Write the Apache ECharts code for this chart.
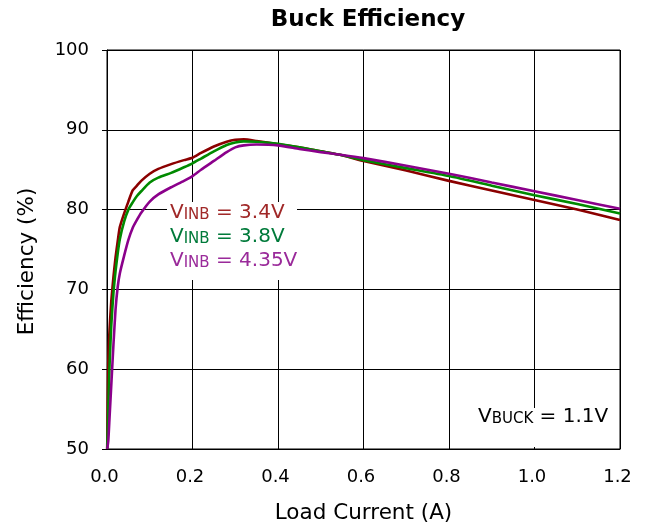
<!DOCTYPE html>
<html><head><meta charset="utf-8">
<script src="https://cdn.jsdelivr.net/npm/echarts@6/dist/echarts.min.js"></script>
<style>html,body{margin:0;padding:0;background:#fff}#c{width:650px;height:529px}</style>
</head><body><div id="c"></div>
<script>
const loadCurrent = [0.0005, 0.003, 0.006, 0.01, 0.015, 0.02, 0.025, 0.03, 0.04, 0.05, 0.06, 0.07, 0.08, 0.1, 0.12, 0.15, 0.18, 0.2, 0.22, 0.25, 0.28, 0.3, 0.32, 0.35, 0.4, 0.45, 0.5, 0.55, 0.6, 0.7, 0.8, 0.9, 1.0, 1.1, 1.2];
const eff34 = [50, 61, 65, 68.5, 71.5, 74, 76, 77.8, 79.5, 81, 82.4, 83, 83.6, 84.5, 85.1, 85.7, 86.2, 86.5, 87.1, 87.9, 88.5, 88.75, 88.8, 88.6, 88.2, 87.8, 87.3, 86.8, 86.1, 84.9, 83.6, 82.4, 81.2, 80.0, 78.7];
const eff38 = [50, 55, 60.5, 65.5, 69.5, 72.3, 74.5, 76.3, 78.5, 80, 80.9, 81.7, 82.3, 83.4, 84, 84.6, 85.3, 85.8, 86.4, 87.3, 88.1, 88.4, 88.55, 88.5, 88.25, 87.8, 87.3, 86.8, 86.2, 85.2, 84.2, 83.0, 81.8, 80.7, 79.5];
const eff435 = [50, 51, 54, 58, 63, 67.5, 70.3, 72, 74.2, 76.2, 77.7, 78.7, 79.6, 81, 81.9, 82.8, 83.6, 84.2, 85, 86.1, 87.2, 87.8, 88.05, 88.15, 88.05, 87.6, 87.2, 86.85, 86.45, 85.5, 84.5, 83.4, 82.3, 81.2, 80.1];
const seriesNames = ['3.4V', '3.8V', '4.35V'];
const lineColors = ['#8b0000', '#008a00', '#8b008b'];
const textColors = ['#a02828', '#007a3a', '#9a2a9a'];
const xTicks = [0.0, 0.2, 0.4, 0.6, 0.8, 1.0, 1.2];
const yTicks = [50, 60, 70, 80, 90, 100];

const F = '"DejaVu Sans", sans-serif';
const chart = echarts.init(document.getElementById('c'), null, {renderer: 'canvas'});
const allY = [eff34, eff38, eff435];
function pairs(ys) { return loadCurrent.map((x, i) => [x, ys[i]]); }

function legendText(i) {
  return '{v|V}{s|INB}{v| = ' + seriesNames[i] + '}';
}
function rich(col) {
  return {
    v: {fontFamily: F, fontSize: 20, fill: col, color: col, verticalAlign: 'bottom', lineHeight: 25},
    s: {fontFamily: F, fontSize: 15, fill: col, color: col, verticalAlign: 'bottom', lineHeight: 21}
  };
}

chart.setOption({
  animation: false,
  backgroundColor: '#fff',
  title: {text: 'Buck Efficiency', left: 363, textAlign: 'center', top: 4,
    textStyle: {fontFamily: F, fontSize: 23, fontWeight: 'bold', color: '#000'}},
  grid: {left: 107, right: 30, top: 50, bottom: 79, show: true, borderColor: '#000', borderWidth: 1},
  xAxis: {type: 'value', min: 0, max: 1.2, interval: 0.2,
    name: 'Load Current (A)', nameLocation: 'middle', nameGap: 53,
    nameTextStyle: {fontFamily: F, fontSize: 21.5, color: '#000'},
    axisLine: {show: true, onZero: false, lineStyle: {color: '#000'}},
    axisTick: {show: false},
    axisLabel: {fontFamily: F, fontSize: 18, color: '#000', margin: 19, padding: [0, 5, 0, 0],
      formatter: v => v.toFixed(1)},
    splitLine: {show: true, lineStyle: {color: '#000', width: 1}}},
  yAxis: {type: 'value', min: 50, max: 100, interval: 10,
    name: 'Efficiency (%)', nameLocation: 'middle', nameGap: 69, nameRotate: 90,
    nameTextStyle: {fontFamily: F, fontSize: 21.5, color: '#000', padding: [0, 24, 0, 0]},
    axisLine: {show: true, lineStyle: {color: '#000'}},
    axisTick: {show: true, inside: false, length: 5, lineStyle: {color: '#000'}},
    axisLabel: {fontFamily: F, fontSize: 18, color: '#000', margin: 18},
    splitLine: {show: true, lineStyle: {color: '#000', width: 1}}},
  series: allY.map((ys, i) => ({
    type: 'line', name: seriesNames[i], data: pairs(ys), showSymbol: false,
    smooth: 0.2, lineStyle: {color: lineColors[i], width: 2.6}, z: 2 + i
  })),
  graphic: [
    {type: 'rect', left: 167, top: 202, shape: {width: 130, height: 78}, style: {fill: '#fff'}, z: 10},
    {type: 'text', left: 170, top: 203, z: 11, style: {text: legendText(0), rich: rich(textColors[0])}},
    {type: 'text', left: 170, top: 227, z: 11, style: {text: legendText(1), rich: rich(textColors[1])}},
    {type: 'text', left: 170, top: 251, z: 11, style: {text: legendText(2), rich: rich(textColors[2])}},
    {type: 'rect', left: 474, top: 408, shape: {width: 138, height: 39}, style: {fill: '#fff'}, z: 10},
    {type: 'text', left: 478, top: 407, z: 11, style: {text: '{v|V}{s|BUCK}{v| = 1.1V}', rich: rich('#000')}}
  ]
});
</script></body></html>
